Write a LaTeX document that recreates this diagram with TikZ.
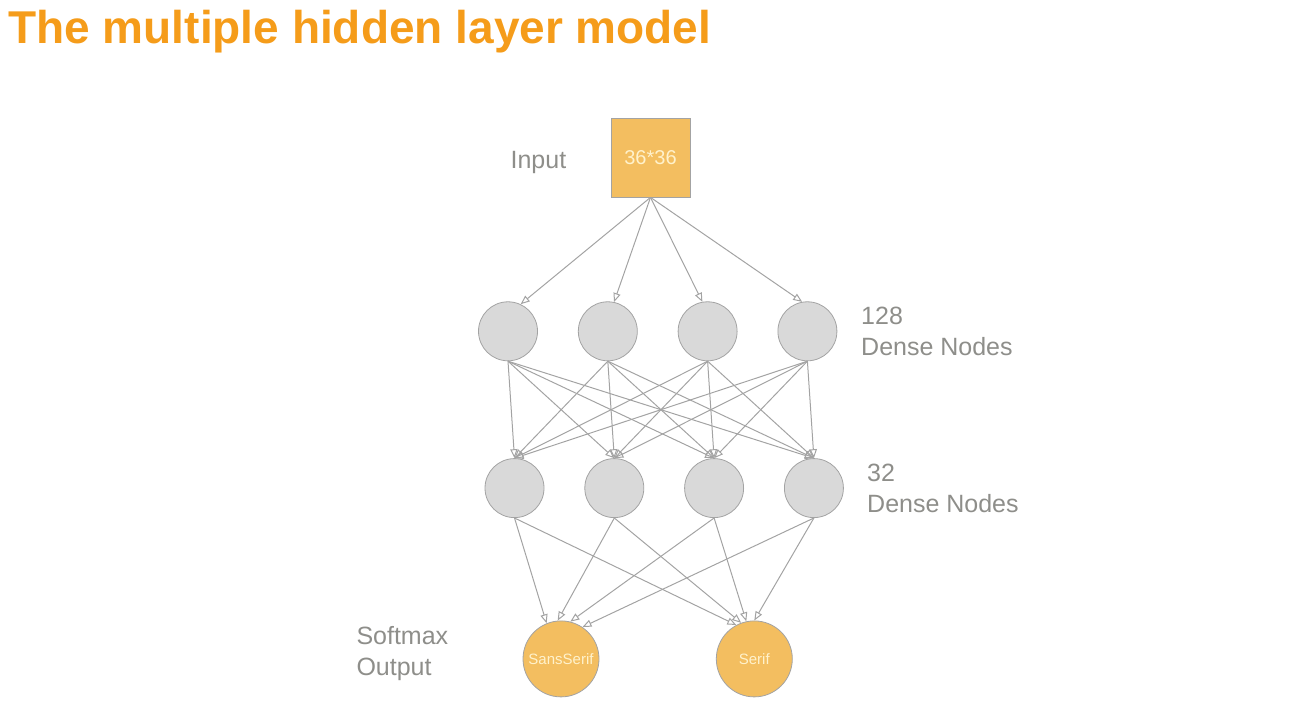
\documentclass[tikz,border=0pt]{standalone}
\usepackage{fontspec}
\setmainfont{Liberation Sans}
\usetikzlibrary{positioning,arrows.meta}
\definecolor{titleorange}{HTML}{F59C1A}
\definecolor{boxorange}{HTML}{F3BE60}
\definecolor{nodegray}{HTML}{D9D9D9}
\definecolor{edgegray}{HTML}{A3A3A3}
\definecolor{textgray}{HTML}{8E8E8A}
\definecolor{cream}{HTML}{FFF2CC}

\begin{document}
\begin{tikzpicture}[
        input_node/.style={rectangle, draw=edgegray, fill=boxorange, minimum size=39.5pt, inner sep=0pt, text=cream, font=\fontsize{10}{11}\selectfont},
        dense_node/.style={circle, draw=edgegray, fill=nodegray, minimum size=29.5pt, inner sep=0pt},
        output_node/.style={circle, draw=edgegray, fill=boxorange, minimum size=38pt, inner sep=0pt, text=cream, font=\fontsize{7.5}{9}\selectfont},
        layer_label/.style={text=textgray, align=left, inner sep=0pt, font=\fontsize{12.5}{15.5}\selectfont},
        link/.style={draw=edgegray, line width=0.5pt, -{Triangle[open, length=4.5pt, width=3.6pt]}}
        ]
            \useasboundingbox (0,0) rectangle (652pt,-352pt);

            % title
            \node[anchor=base west, inner sep=0pt, text=titleorange, font=\fontsize{23}{27}\selectfont\bfseries] (title) at (4pt,-22pt) {The multiple hidden layer model};

            % input
            \node[input_node]    (input)   at (325.25pt,-78.75pt)                      {36*36};
            % dense 128
            \node[dense_node]    (dense1_1)   [below = 52pt of input, xshift=-71.25pt]   {};
            \node[dense_node]    (dense1_2)   [right = 20pt of dense1_1]                 {};
            \node[dense_node]    (dense1_3)   [right = 20pt of dense1_2]                 {};
            \node[dense_node]    (dense1_4)   [right = 20pt of dense1_3]                 {};
            % dense 32
            \node[dense_node]    (dense2_1)   [below = 48.5pt of dense1_1, xshift=3.25pt] {};
            \node[dense_node]    (dense2_2)   [right = 20pt of dense2_1]                 {};
            \node[dense_node]    (dense2_3)   [right = 20pt of dense2_2]                 {};
            \node[dense_node]    (dense2_4)   [right = 20pt of dense2_3]                 {};
            % softmax
            \node[output_node]   (out_1)      [below = 51.25pt of dense2_1, xshift=23.25pt] {SansSerif};
            \node[output_node]   (out_2)      [right = 58.25pt of out_1]                 {Serif};

            % Lines
            \draw[link] (input.south) -- (dense1_1.65);
            \draw[link] (input.south) -- (dense1_2.78);
            \draw[link] (input.south) -- (dense1_3.100);
            \draw[link] (input.south) -- (dense1_4.100);

            \draw[link] (dense1_1.south) -- (dense2_1.north);
            \draw[link] (dense1_1.south) -- (dense2_2.north);
            \draw[link] (dense1_1.south) -- (dense2_3.north);
            \draw[link] (dense1_1.south) -- (dense2_4.north);
            \draw[link] (dense1_2.south) -- (dense2_1.north);
            \draw[link] (dense1_2.south) -- (dense2_2.north);
            \draw[link] (dense1_2.south) -- (dense2_3.north);
            \draw[link] (dense1_2.south) -- (dense2_4.north);
            \draw[link] (dense1_3.south) -- (dense2_1.north);
            \draw[link] (dense1_3.south) -- (dense2_2.north);
            \draw[link] (dense1_3.south) -- (dense2_3.north);
            \draw[link] (dense1_3.south) -- (dense2_4.north);
            \draw[link] (dense1_4.south) -- (dense2_1.north);
            \draw[link] (dense1_4.south) -- (dense2_2.north);
            \draw[link] (dense1_4.south) -- (dense2_3.north);
            \draw[link] (dense1_4.south) -- (dense2_4.north);

            \draw[link] (dense2_1.south) -- (out_1.112);
            \draw[link] (dense2_2.south) -- (out_1.95);
            \draw[link] (dense2_3.south) -- (out_1.76);
            \draw[link] (dense2_4.south) -- (out_1.56);
            \draw[link] (dense2_1.south) -- (out_2.118);
            \draw[link] (dense2_2.south) -- (out_2.110);
            \draw[link] (dense2_3.south) -- (out_2.102);
            \draw[link] (dense2_4.south) -- (out_2.90);

            % text
            \node[layer_label]   (input_label)   [left = 22pt of input, yshift=-2.5pt]     {Input};
            \node[layer_label]   (dense1_label)  [right = 11.75pt of dense1_4]             {128\\Dense Nodes};
            \node[layer_label]   (dense2_label)  [right = 11.5pt of dense2_4]              {32\\Dense Nodes};
            \node[layer_label]   (output_label)  [left = 37pt of out_1, yshift=2.75pt]     {Softmax\\Output};
        \end{tikzpicture}
\end{document}
